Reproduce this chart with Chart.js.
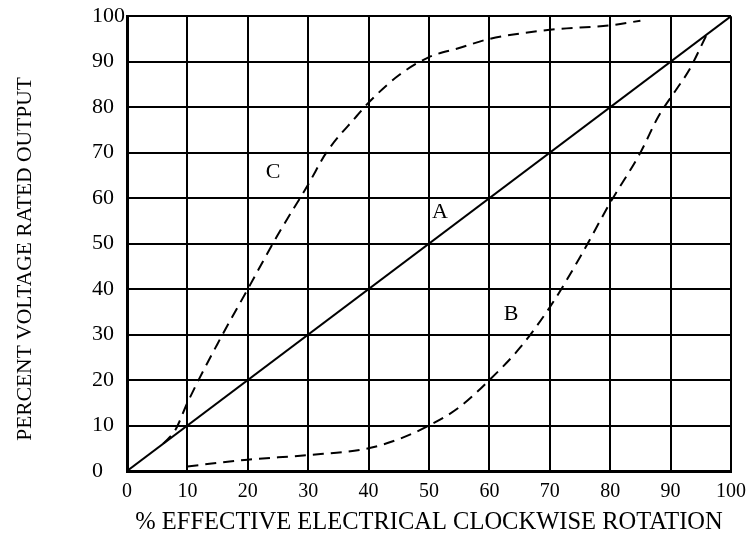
<!DOCTYPE html>
<html>
<head>
<meta charset="utf-8">
<script src="https://cdn.jsdelivr.net/npm/chart.js@4"></script>
<style>
  html, body { margin: 0; padding: 0; background: #fff; }
  #wrap { width: 756px; height: 541px; }
</style>
</head>
<body>
<div id="wrap"><canvas id="myChart" width="756" height="541"></canvas></div>
<script>
// curve A - straight line
const aX = [0, 100];
const aY = [0, 100];
// curve B - slow start, fast finish
const bX = [10, 20, 30, 40, 45, 50, 55, 60, 65, 70, 75, 80, 85, 88, 91, 93, 96];
const bY = [1, 2.5, 3.5, 5, 7, 10, 14, 20, 27, 36, 47, 59, 70, 78, 84, 88, 96];
// curve C - fast start, slow finish
const cX = [6, 8, 10, 15, 20, 25, 30, 33, 38, 40, 45, 50, 55, 60, 70, 80, 85];
const cY = [6, 9, 15, 28, 40, 52, 63, 70, 78, 81, 87, 91, 93, 95, 97, 98, 99];
// letters on the curves
const labelText = ['A', 'B', 'C'];
const labelX = [51.8, 63.6, 24.2];
const labelY = [57, 34.5, 65.7];
const yTitle = 'PERCENT VOLTAGE RATED OUTPUT';

const serif = "'Liberation Serif', 'DejaVu Serif', serif";

function toPoints(xs, ys) {
  return xs.map((x, i) => ({ x: x, y: ys[i] }));
}

// draw the A / B / C letters and the y axis title
const letterPlugin = {
  id: 'letters',
  afterDatasetsDraw(chart) {
    const ctx = chart.ctx;
    const xs = chart.scales.x, ys = chart.scales.y;
    ctx.save();
    ctx.fillStyle = '#000';
    ctx.font = '22px ' + serif;
    ctx.textAlign = 'center';
    ctx.textBaseline = 'middle';
    labelText.forEach((t, i) => {
      ctx.fillText(t, xs.getPixelForValue(labelX[i]), ys.getPixelForValue(labelY[i]));
    });
    // y title, a bit below the middle like the original
    ctx.translate(25, 259);
    ctx.rotate(-Math.PI / 2);
    ctx.font = '21.5px ' + serif;
    ctx.fillText(yTitle, 0, 0);
    ctx.restore();
  }
};

var ctx = document.getElementById('myChart').getContext('2d');
var myChart = new Chart(ctx, {
  type: 'line',
  data: {
    datasets: [
      {
        label: 'A',
        data: toPoints(aX, aY),
        borderColor: '#000',
        borderWidth: 2,
        pointRadius: 0,
        fill: false
      },
      {
        label: 'B',
        data: toPoints(bX, bY),
        borderColor: '#000',
        borderWidth: 2,
        borderDash: [11, 7],
        pointRadius: 0,
        cubicInterpolationMode: 'monotone',
        fill: false
      },
      {
        label: 'C',
        data: toPoints(cX, cY),
        borderColor: '#000',
        borderWidth: 2,
        borderDash: [11, 7],
        pointRadius: 0,
        cubicInterpolationMode: 'monotone',
        fill: false
      }
    ]
  },
  options: {
    responsive: false,
    animation: false,
    layout: { padding: { left: 92, right: 25, top: 16, bottom: 0 } },
    plugins: {
      legend: { display: false },
      tooltip: { enabled: false }
    },
    scales: {
      x: {
        type: 'linear',
        min: 0,
        max: 100,
        afterFit(scale) { scale.height = 70; },
        ticks: {
          stepSize: 10,
          color: '#000',
          padding: 9,
          maxRotation: 0,
          font: { family: serif, size: 20 }
        },
        grid: { color: '#000', lineWidth: 2, drawTicks: false },
        border: { display: true, color: '#000', width: 3 },
        title: {
          display: true,
          text: '% EFFECTIVE ELECTRICAL CLOCKWISE ROTATION',
          color: '#000',
          font: { family: serif, size: 24.5 },
          padding: { top: 6, bottom: 4 }
        }
      },
      y: {
        min: 0,
        max: 100,
        afterFit(scale) { scale.width = 35; },
        ticks: {
          stepSize: 10,
          color: '#000',
          padding: 3,
          crossAlign: 'far',
          font: { family: serif, size: 22 }
        },
        grid: { color: '#000', lineWidth: 2, drawTicks: false },
        border: { display: true, color: '#000', width: 3 }
      }
    }
  },
  plugins: [letterPlugin]
});
</script>
</body>
</html>
